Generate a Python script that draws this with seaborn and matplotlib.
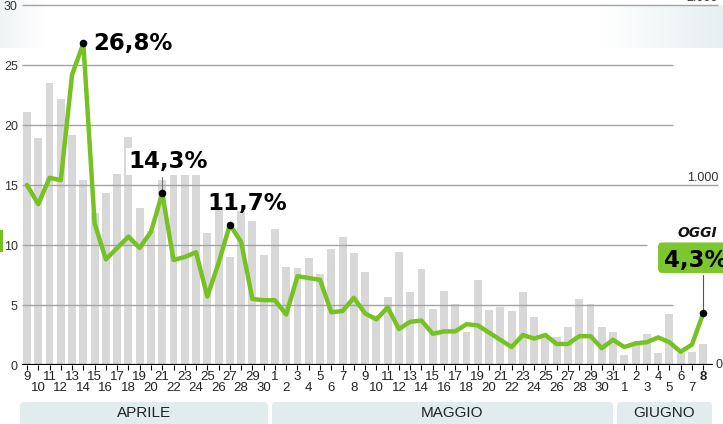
import numpy as np
import pandas as pd
import matplotlib
matplotlib.use("Agg")
import matplotlib.pyplot as plt
import seaborn as sns
from matplotlib import font_manager as fm
from matplotlib.patches import FancyBboxPatch, Rectangle
from matplotlib.ticker import FixedLocator

# ---------------- data ----------------
april_days = [9, 10, 11, 12, 13, 14, 15, 16, 17, 18, 19, 20, 21, 22, 23, 24, 25, 26, 27, 28, 29, 30]
may_days = list(range(1, 32))
june_days = [1, 2, 3, 4, 5, 6, 7, 8]
months = ["APRILE", "MAGGIO", "GIUGNO"]

# positivity rate (%) - left axis
positivity = [15.0, 13.4, 15.6, 15.4, 24.2, 26.8, 11.8, 8.8, 9.75, 10.7, 9.75, 11.1, 14.3,
              8.75, 9.0, 9.4, 5.7, 8.5, 11.7, 10.25, 5.5, 5.4,
              5.4, 4.2, 7.4, 7.25, 7.1, 4.4, 4.5, 5.6, 4.3, 3.8, 4.8, 3.0, 3.6, 3.7, 2.6, 2.8,
              2.8, 3.4, 3.3, 2.7, 2.1, 1.5, 2.5, 2.2, 2.5, 1.75, 1.75, 2.4, 2.4, 1.4, 2.1,
              1.5, 1.8, 1.9, 2.3, 1.9, 1.1, 1.7, 4.3]

# daily tests (right axis)
tests = [1407, 1260, 1567, 1480, 1280, 1027, 847, 953, 1060, 1267, 873, 747, 1030,
         1100, 1100, 1087, 733, 867, 600, 853, 800, 613,
         753, 547, 540, 593, 507, 647, 713, 620, 517, 280, 380, 627, 407, 533, 313, 413,
         340, 183, 473, 307, 323, 300, 407, 267, 167, 153, 213, 367, 340, 213, 183,
         53, 120, 173, 67, 283, 67, 73, 117]

highlights = {5: "26,8%", 12: "14,3%", 18: "11,7%"}
today_label = "4,3%"

day_labels = [str(d) for d in april_days + may_days + june_days]
n = len(day_labels)
idx = np.arange(n)
df = pd.DataFrame({"i": idx, "pos": positivity, "tests": tests})

# ---------------- fonts ----------------
names = {f.name for f in fm.fontManager.ttflist}
has_narrow = "Liberation Sans Narrow" in names
narrow = "Liberation Sans Narrow" if has_narrow else "Liberation Sans"
bold_font = "DejaVu Sans"
tick_fs = 10.5 if has_narrow else 9.5
month_fs = 12 if has_narrow else 11

sns.set_theme(style="white")
plt.rcParams["font.family"] = [narrow, "DejaVu Sans"]

W, H = 723, 424
fig = plt.figure(figsize=(W / 100, H / 100), dpi=100)
fig.patch.set_facecolor("white")

# faint header gradients at the top corners
grad = np.linspace(0, 1, 100)[None, :]
gl = fig.add_axes([0, (H - 48) / H, 45 / W, 48 / H], zorder=-5)
gl.imshow(grad, aspect="auto",
          cmap=matplotlib.colors.LinearSegmentedColormap.from_list("g1", ["#f0f3f4", "#ffffff"]))
gl.axis("off")
gr = fig.add_axes([600 / W, (H - 48) / H, 123 / W, 43 / H], zorder=-5)
gr.imshow(grad, aspect="auto",
          cmap=matplotlib.colors.LinearSegmentedColormap.from_list("g2", ["#ffffff", "#e6eff1"]))
gr.axis("off")

# main axes: pixel 22..723 horizontally, value 0 at y=365, 12 px per unit
ax_bar = fig.add_axes([22 / W, (H - 365) / H, (W - 22) / W, 365 / H])
ax_bar.patch.set_visible(False)
ytop = 365 / 12.0
xmin, xmax = (22 - 27) / 11.27, (W - 27) / 11.27

sns.barplot(data=df, x="i", y="tests", ax=ax_bar, color="#d8d8d8", saturation=1,
            width=0.7, errorbar=None, linewidth=0)
ax_bar.set_ylim(0, ytop * 1000 / 15)
ax_bar.set_xlim(xmin, xmax)
ax_bar.set_yticks([])
ax_bar.set_ylabel("")
ax_bar.set_xlabel("")
for s in ax_bar.spines.values():
    s.set_visible(False)

ax_line = ax_bar.twinx()
ax_line.set_ylim(0, ytop)
ax_line.set_xlim(xmin, xmax)
for s in ax_line.spines.values():
    s.set_visible(False)


def px2day(px):
    return (px - 27) / 11.27


grid_c = "#a3a3a3"
for v, xe in [(5, 673), (10, 647), (20, 673), (25, 673), (15, 718), (30, 718)]:
    ax_line.hlines(v, xmin, px2day(xe), color=grid_c, lw=1.0, zorder=1)
ax_line.hlines(0, xmin, px2day(713), color="black", lw=1.6, zorder=2)

sns.lineplot(data=df, x="i", y="pos", ax=ax_line, color="#76c222", lw=3.2, zorder=3,
             solid_joinstyle="round", solid_capstyle="round")
ax_line.set_xlim(xmin, xmax)
ax_line.set_ylabel("")
ax_line.set_xlabel("")

# left ticks
ax_line.yaxis.tick_left()
ax_line.set_yticks([0, 5, 10, 15, 20, 25, 30])
ax_line.set_yticklabels(["0", "5", "10", "15", "20", "25", "30"])
ax_line.tick_params(axis="y", length=0, pad=3, labelsize=9, labelcolor="#333333")

# right axis labels
for v, t in [(15, "1.000"), (30, "2.000")]:
    ax_line.text(px2day(718), v + 0.12, t, ha="right", va="bottom", fontsize=9,
                 color="#333333", family="Liberation Sans", zorder=5)
ax_line.text(px2day(722), 0, "0", ha="right", va="center", fontsize=9, color="#333333",
             family="Liberation Sans", zorder=5)

# x ticks in two rows
ax_bar.xaxis.set_major_locator(FixedLocator(idx[0::2]))
ax_bar.xaxis.set_minor_locator(FixedLocator(idx[1::2]))
ax_bar.set_xticklabels(day_labels[0::2])
ax_bar.set_xticklabels(day_labels[1::2], minor=True)
ax_bar.tick_params(axis="x", which="both", bottom=True, direction="out", length=3.5,
                   width=0.8, color="black", labelsize=tick_fs, labelcolor="#222222")
ax_bar.tick_params(axis="x", which="major", pad=1.0)
ax_bar.tick_params(axis="x", which="minor", pad=9.0)
ax_bar.get_xticklabels()[-1].set_fontweight("bold")

# highlighted values
pos_arr = np.array(positivity)
for i in list(highlights) + [n - 1]:
    ax_line.scatter(i, pos_arr[i], s=30, color="black", zorder=6, linewidths=0)

ax_line.text(px2day(93), 26.25, highlights[5], ha="left", va="baseline", fontsize=16.5,
             fontweight="bold", family=bold_font, color="black", zorder=7)
ax_line.text(px2day(168), 16.4, highlights[12], ha="center", va="baseline", fontsize=16.5,
             fontweight="bold", family=bold_font, color="black", zorder=7,
             bbox=dict(boxstyle="square,pad=0.1", fc="white", ec="none"))
ax_line.plot([12, 12], [pos_arr[12], 15.7], color="#777777", lw=0.8, zorder=5)
ax_line.text(px2day(207), 12.9, highlights[18], ha="left", va="baseline", fontsize=16.5,
             fontweight="bold", family=bold_font, color="black", zorder=7)

# OGGI box
ax_line.plot([n - 1, n - 1], [pos_arr[-1], 7.6], color="#555555", lw=0.8, zorder=5)
box = FancyBboxPatch((px2day(657), 7.58), 6.5, 2.72,
                     boxstyle="round,pad=0,rounding_size=0.45",
                     fc="#7cc62e", ec="white", lw=1.5, zorder=6, clip_on=False)
ax_line.add_patch(box)
ax_line.text(px2day(664), 8.17, today_label, ha="left", va="baseline", fontsize=16.5,
             fontweight="bold", family=bold_font, color="black", zorder=7, clip_on=False)
ax_line.text(px2day(697), 10.67, "OGGI", ha="center", va="baseline", fontsize=10,
             fontweight="bold", fontstyle="italic", family=bold_font, color="#111111", zorder=7)

# month bands (pixel coordinates; origin bottom-left)
band_c = "#e1ecee"
bands = [(20, 268, months[0], 144), (272, 613, months[1], 452), (617, 712, months[2], 664)]
for x0, x1, lab, xc in bands:
    p = FancyBboxPatch((x0, -4), x1 - x0, 26, boxstyle="round,pad=0,rounding_size=4",
                       fc=band_c, ec="none", transform=None, figure=fig)
    fig.patches.append(p)
    fig.text(xc / W, (H - 413) / H, lab, ha="center", va="center", fontsize=month_fs,
             color="#222222", family=[narrow, "DejaVu Sans"])

# small green mark at the left edge
fig.patches.append(Rectangle((0, (H - 252) / H), 3 / W, 22 / H, transform=fig.transFigure,
                             fc="#74c020", ec="none", figure=fig))

fig.savefig("out.png", dpi=100, facecolor="white")
